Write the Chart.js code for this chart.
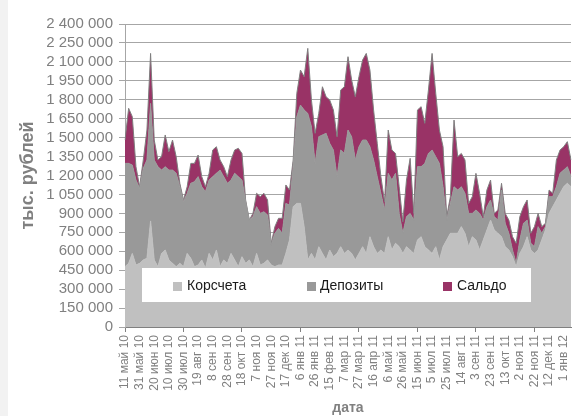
<!DOCTYPE html>
<html><head><meta charset="utf-8">
<script src="https://cdn.jsdelivr.net/npm/chart.js@4.4.0/dist/chart.umd.min.js"></script>
<style>
html,body{margin:0;padding:0;background:#fff;}
#wrap{position:relative;width:574px;height:416px;background:linear-gradient(to right,#f2f2f2 0,#f2f2f2 8px,#ffffff 8px);}
canvas{display:block;}
</style></head><body>
<div id="wrap"><canvas id="c" width="574" height="416"></canvas></div>
<script>
// Day offsets from 11 May 2010, one sample every 5 days
const dayOffsets = [
  0,5,10,15,20,25,30,35,40,45,50,55,60,65,70,75,80,85,90,95,
  100,105,110,115,120,125,130,135,140,145,150,155,160,165,170,175,180,185,190,195,
  200,205,210,215,220,225,230,235,240,245,250,255,260,265,270,275,280,285,290,295,
  300,305,310,315,320,325,330,335,340,345,350,355,360,365,370,375,380,385,390,395,
  400,405,410,415,420,425,430,435,440,445,450,455,460,465,470,475,480,485,490,495,
  500,505,510,515,520,525,530,535,540,545,550,555,560,565,570,575,580,585,590,595,
  600,605,610
];
// Axis tick labels, every 20 days
const tickLabels = [
  '11 май 10','31 май 10','20 июн 10','10 июл 10','30 июл 10','19 авг 10','8 сен 10','28 сен 10',
  '18 окт 10','7 ноя 10','27 ноя 10','17 дек 10','6 янв 11','26 янв 11','15 фев 11','7 мар 11',
  '27 мар 11','16 апр 11','6 май 11','26 май 11','15 июн 11','5 июл 11','25 июл 11','14 авг 11',
  '3 сен 11','23 сен 11','13 окт 11','2 ноя 11','22 ноя 11','12 дек 11','1 янв 12'
];
// тыс. рублей
const korschета = [
  478000,504000,583000,491000,504000,531000,544000,840000,531000,478000,
  583000,610000,531000,504000,478000,504000,478000,583000,544000,478000,
  491000,531000,465000,583000,531000,610000,478000,531000,504000,583000,
  531000,478000,557000,504000,531000,478000,583000,491000,504000,531000,
  491000,478000,491000,491000,583000,689000,953000,979000,979000,795000,
  531000,583000,531000,636000,583000,531000,610000,557000,583000,636000,
  583000,610000,583000,531000,583000,636000,583000,715000,636000,583000,
  610000,583000,715000,610000,663000,636000,583000,636000,610000,583000,
  689000,715000,636000,610000,583000,636000,531000,636000,689000,742000,
  742000,742000,795000,742000,636000,715000,689000,610000,689000,768000,
  847000,768000,742000,715000,636000,610000,557000,478000,583000,636000,
  715000,610000,583000,610000,689000,768000,900000,953000,1006000,1059000,
  1111000,1138000,1111000
];
const deposits = [
  818000,792000,700000,673000,594000,726000,779000,931000,792000,792000,
  660000,660000,712000,739000,739000,607000,515000,476000,594000,673000,
  700000,580000,607000,581000,660000,607000,765000,660000,634000,581000,
  686000,713000,607000,489000,316000,396000,370000,409000,409000,356000,
  158000,264000,290000,251000,396000,277000,317000,687000,779000,924000,
  1161000,1004000,765000,871000,938000,1003000,845000,845000,608000,766000,
  792000,950000,924000,792000,845000,845000,898000,713000,687000,608000,
  449000,344000,502000,554000,554000,264000,159000,238000,290000,264000,
  581000,555000,660000,765000,819000,713000,765000,475000,158000,237000,
  369000,343000,316000,317000,264000,185000,238000,290000,158000,185000,
  159000,106000,105000,370000,185000,132000,53000,26000,106000,185000,
  132000,53000,53000,185000,53000,27000,132000,79000,105000,158000,
  132000,132000,80000
];
const saldo = [
  185000,436000,383000,106000,13000,66000,237000,396000,158000,53000,
  106000,251000,146000,238000,132000,27000,13000,52000,158000,145000,
  171000,80000,39000,53000,211000,211000,80000,79000,53000,159000,
  185000,224000,211000,13000,0,26000,106000,132000,146000,119000,
  14000,53000,80000,119000,146000,119000,53000,185000,277000,264000,
  515000,211000,238000,185000,382000,290000,343000,317000,316000,475000,
  528000,581000,449000,501000,555000,634000,686000,607000,396000,264000,
  132000,66000,343000,238000,158000,211000,92000,290000,436000,53000,
  449000,475000,317000,502000,765000,502000,264000,317000,27000,53000,
  528000,264000,264000,264000,79000,132000,290000,159000,27000,132000,
  158000,26000,80000,53000,79000,105000,105000,159000,185000,132000,
  159000,79000,159000,105000,53000,26000,53000,27000,212000,185000,
  185000,198000,132000
];
const seriesNames = ['Корсчета','Депозиты','Сальдо'];
const seriesColors = ['#c0c0c0','#999999','#993366'];

const FONT = '"Liberation Sans", Arial, sans-serif';
Chart.defaults.font.family = FONT;

function fmt(v){ return String(v).replace(/\B(?=(\d{3})+(?!\d))/g, ' '); }

const insideLegend = {
  id: 'insideLegend',
  afterDatasetsDraw(chart){
    const {ctx, chartArea: a} = chart;
    const x0 = a.left + 17, y0 = a.top + 244, w = 389, h = 34;
    const offs = [[31,45],[165,178],[301,315]];
    ctx.save();
    ctx.fillStyle = '#ffffff';
    ctx.fillRect(x0, y0, w, h);
    ctx.font = '14px ' + FONT;
    ctx.textBaseline = 'middle';
    ctx.textAlign = 'left';
    chart.data.datasets.forEach((ds, i) => {
      ctx.fillStyle = ds.backgroundColor;
      ctx.fillRect(x0 + offs[i][0], y0 + 14, 9, 9);
      ctx.fillStyle = '#1a1a1a';
      ctx.fillText(ds.label, x0 + offs[i][1], y0 + 18);
    });
    ctx.restore();
  }
};

const seriesData = [korschета, deposits, saldo];
new Chart(document.getElementById('c'), {
  type: 'line',
  data: {
    labels: dayOffsets,
    datasets: seriesData.map((d, i) => ({
      label: seriesNames[i],
      data: d,
      backgroundColor: seriesColors[i],
      borderColor: i === 2 ? '#7f7f7f' : seriesColors[i],
      borderWidth: 1,
      fill: i === 0 ? 'origin' : '-1',
      pointRadius: 0,
      tension: 0
    }))
  },
  options: {
    responsive: false,
    animation: false,
    layout: { padding: { left: 0, right: 0, top: 24, bottom: 0 } },
    plugins: { legend: { display: false }, tooltip: { enabled: false } },
    scales: {
      x: {
        type: 'category',
        offset: false,
        grid: {
          display: true, drawOnChartArea: false, drawTicks: true, tickLength: 5,
          color: ctx => (dayOffsets[ctx.index] % 20 === 0 ? '#808080' : 'rgba(0,0,0,0)')
        },
        border: { display: true, color: '#808080' },
        ticks: {
          autoSkip: false, maxRotation: 90, minRotation: 90, padding: 3,
          color: '#808080', font: { size: 12 },
          callback: (v, i) => (dayOffsets[i] % 20 === 0 ? tickLabels[dayOffsets[i] / 20] : null)
        },
        title: {
          display: true, text: 'дата', color: '#808080',
          font: { size: 14, weight: 'bold' }, padding: { top: 0, bottom: -1 }
        },
        afterFit: s => { s.height = 89; s.paddingRight = 3; }
      },
      y: {
        stacked: true,
        min: 0, max: 2400000,
        ticks: { stepSize: 150000, autoSkip: false, color: '#808080', font: { size: 15 }, padding: 6, callback: v => fmt(v) },
        grid: { color: '#a6a6a6', tickLength: 6 },
        border: { color: '#a6a6a6' },
        title: {
          display: true, text: 'тыс. рублей', color: '#808080',
          font: { size: 18, weight: 'bold' }, padding: { top: 17, bottom: 0 }
        },
        afterFit: s => { s.width = 125; }
      }
    }
  },
  plugins: [insideLegend]
});
</script>
</body></html>
